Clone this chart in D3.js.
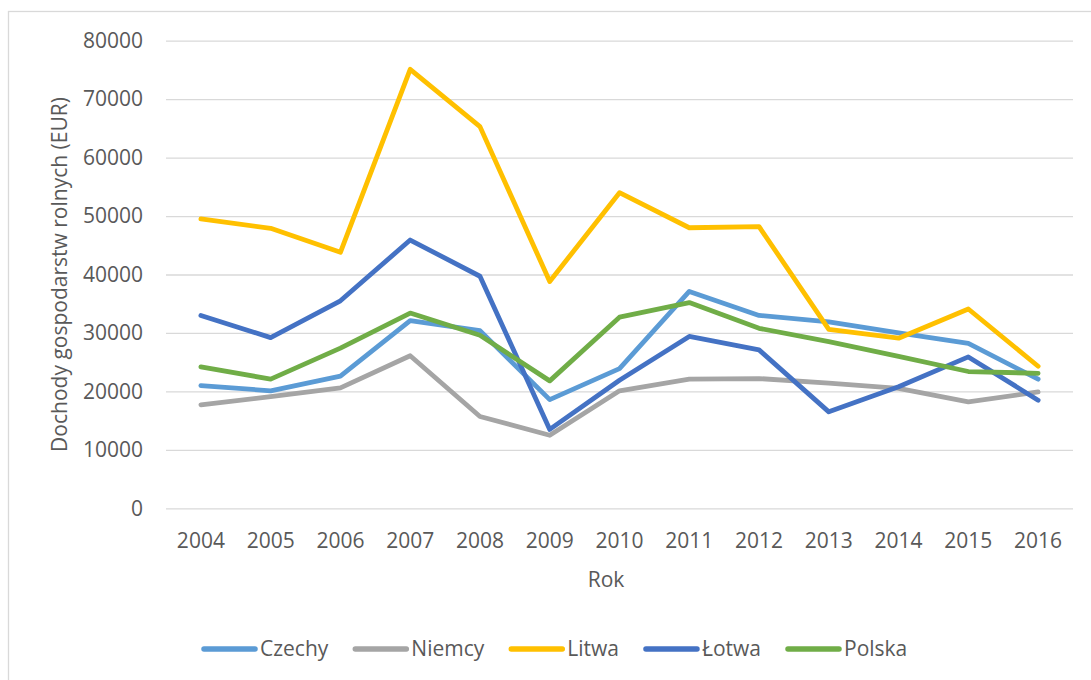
<!DOCTYPE html>
<html>
<head>
<meta charset="utf-8">
<script src="https://cdn.jsdelivr.net/npm/d3@7"></script>
<style>
  body { margin: 0; background: #fff; }
  svg text { font-family: "Open Sans", sans-serif; fill: #595959; }
</style>
</head>
<body>
<svg id="chart" width="1091" height="680"></svg>
<script>
const years = ["2004", "2005", "2006", "2007", "2008", "2009", "2010", "2011", "2012", "2013", "2014", "2015", "2016"];
const yTicks = [0, 10000, 20000, 30000, 40000, 50000, 60000, 70000, 80000];

const czechy = [21000, 20100, 22600, 32100, 30400, 18600, 23900, 37100, 33000, 31900, 30000, 28200, 22100];
const niemcy = [17700, 19100, 20600, 26100, 15700, 12500, 20100, 22100, 22200, 21400, 20500, 18200, 19900];
const litwa  = [49500, 47900, 43800, 75100, 65300, 38800, 54000, 48000, 48200, 30600, 29100, 34100, 24300];
const lotwa  = [33000, 29200, 35500, 45900, 39700, 13500, 21900, 29400, 27100, 16500, 20800, 25900, 18500];
const polska = [24200, 22100, 27400, 33400, 29600, 21800, 32700, 35200, 30800, 28500, 26000, 23400, 23100];

const series = [
  { name: "Czechy", values: czechy, color: "#5B9BD5" },
  { name: "Niemcy", values: niemcy, color: "#A5A5A5" },
  { name: "Litwa",  values: litwa,  color: "#FFC000" },
  { name: "Łotwa",  values: lotwa,  color: "#4472C4" },
  { name: "Polska", values: polska, color: "#70AD47" }
];

const svg = d3.select("#chart");

// outer chart border (runs off the right/bottom edge like the reference)
svg.append("rect")
  .attr("x", 8.5).attr("y", 11.5)
  .attr("width", 1100).attr("height", 700)
  .attr("fill", "none")
  .attr("stroke", "#D9D9D9")
  .attr("stroke-width", 1.3);

const plotLeft = 166, plotRight = 1073, plotTop = 40.7, plotBottom = 508.3;

const x = d3.scaleBand().domain(years).range([plotLeft, plotRight]);
const y = d3.scaleLinear().domain([0, 80000]).range([plotBottom, plotTop]);

/* y axis + gridlines */
const yAxis = svg.append("g")
  .attr("transform", `translate(${plotLeft},0)`)
  .call(d3.axisLeft(y).tickValues(yTicks).tickFormat(d3.format("d"))
    .tickSizeInner(-(plotRight - plotLeft)).tickSizeOuter(0).tickPadding(23));
yAxis.select(".domain").remove();
yAxis.selectAll(".tick line").attr("stroke", "#D9D9D9").attr("stroke-width", 1.3);
yAxis.selectAll(".tick text").attr("font-size", "21px").attr("fill", "#595959");

/* x axis */
const xAxis = svg.append("g")
  .attr("transform", `translate(0,${plotBottom})`)
  .call(d3.axisBottom(x).tickSize(0).tickPadding(25));
xAxis.select(".domain").remove();
xAxis.selectAll(".tick text").attr("font-size", "21px").attr("fill", "#595959");

/* lines */
const line = d3.line()
  .x((d, i) => x(years[i]) + x.bandwidth() / 2)
  .y(d => y(d));

svg.selectAll("path.series")
  .data(series)
  .enter()
  .append("path")
  .attr("class", "series")
  .attr("d", d => line(d.values))
  .attr("fill", "none")
  .attr("stroke", d => d.color)
  .attr("stroke-width", 4.8)
  .attr("stroke-linejoin", "round")
  .attr("stroke-linecap", "round");

/* axis titles */
svg.append("text")
  .attr("transform", `translate(67,${(plotTop + plotBottom) / 2}) rotate(-90)`)
  .attr("text-anchor", "middle")
  .attr("font-size", "21px")
  .text("Dochody gospodarstw rolnych (EUR)");

svg.append("text")
  .attr("x", 606).attr("y", 587)
  .attr("text-anchor", "middle")
  .attr("font-size", "21px")
  .text("Rok");

/* legend */
const legend = svg.append("g");
let lx = 202;
series.forEach(s => {
  legend.append("line")
    .attr("x1", lx + 2).attr("x2", lx + 53)
    .attr("y1", 649).attr("y2", 649)
    .attr("stroke", s.color)
    .attr("stroke-width", 5.5)
    .attr("stroke-linecap", "round");
  const t = legend.append("text")
    .attr("x", lx + 58).attr("y", 656)
    .attr("font-size", "21px")
    .text(s.name);
  lx += 58 + t.node().getComputedTextLength() + 25;
});
</script>
</body>
</html>
